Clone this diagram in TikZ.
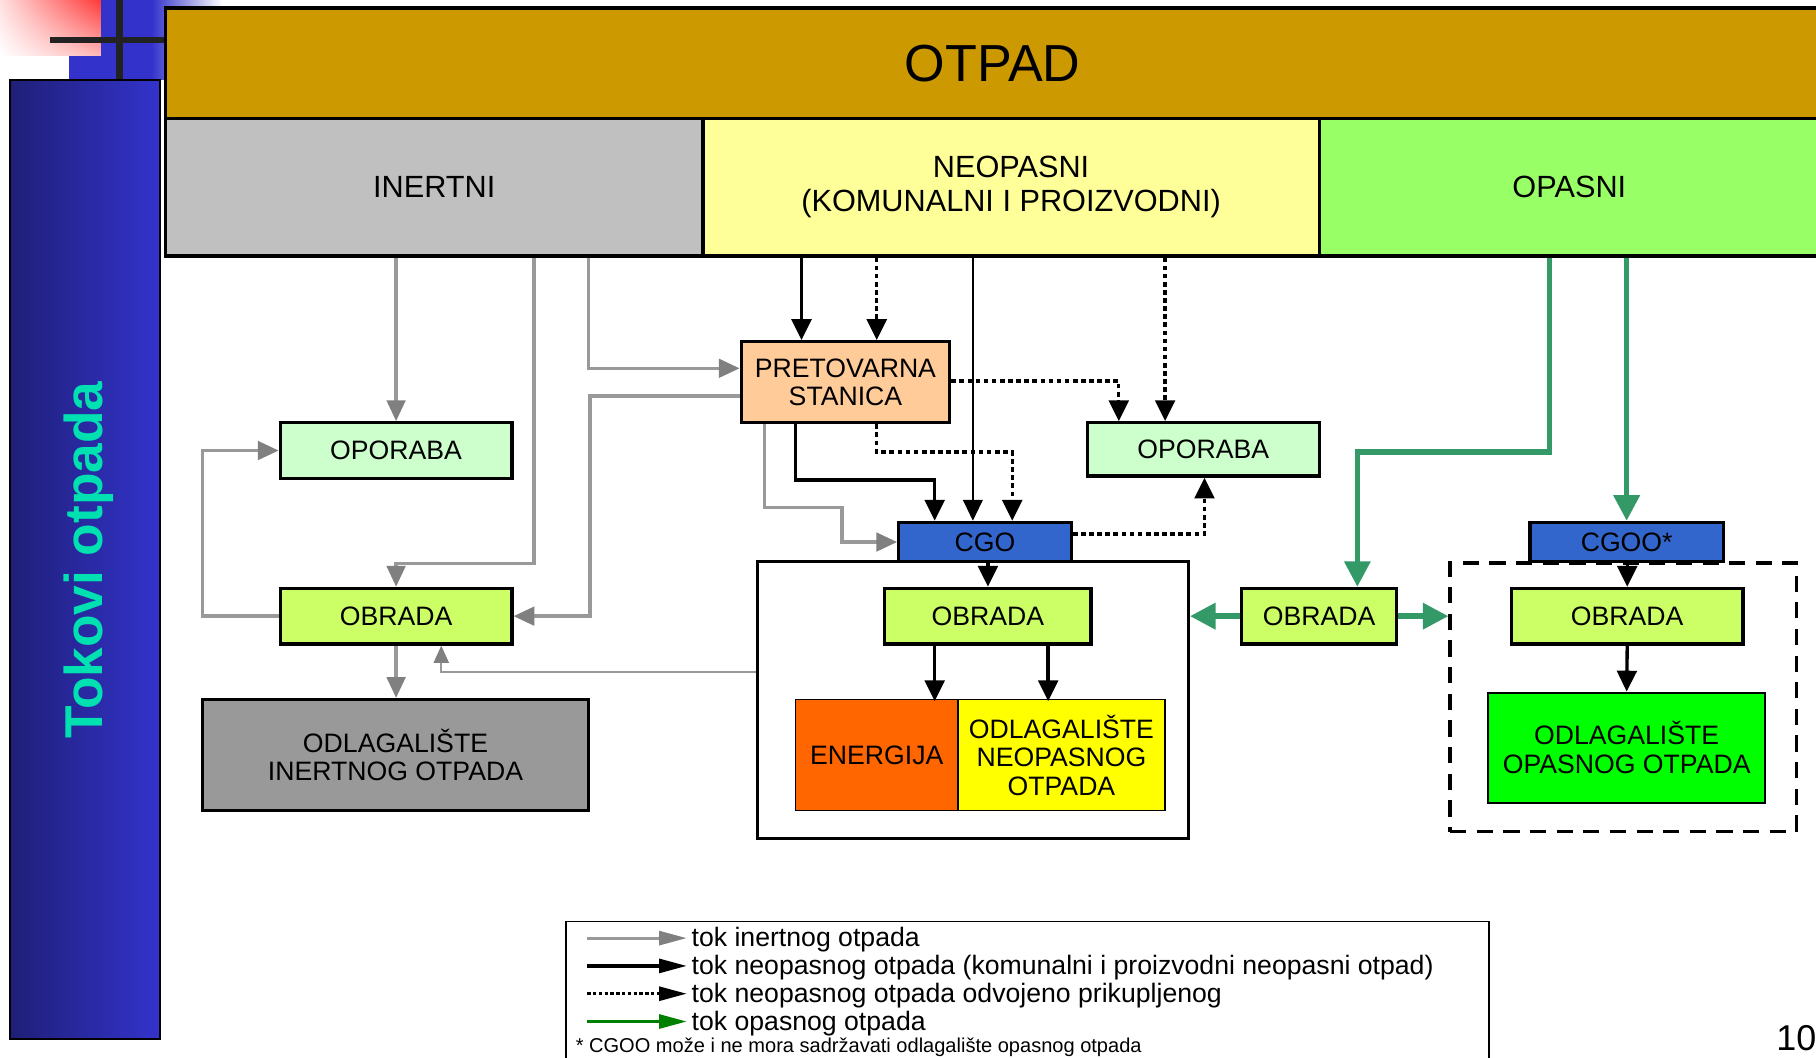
\documentclass[tikz,border=0pt]{standalone}
\usepackage{fontspec}
\setmainfont{Liberation Sans}
\usetikzlibrary{arrows.meta,calc,shadings}
\definecolor{otpadc}{HTML}{CC9900}
\definecolor{inertc}{HTML}{C0C0C0}
\definecolor{neoc}{HTML}{FFFF99}
\definecolor{opasc}{HTML}{99FF66}
\definecolor{pretc}{HTML}{FFCC99}
\definecolor{oporc}{HTML}{CCFFCC}
\definecolor{obrc}{HTML}{CCFF66}
\definecolor{odlIc}{HTML}{999999}
\definecolor{cgoc}{HTML}{3366CC}
\definecolor{energc}{HTML}{FF6600}
\definecolor{odlNc}{HTML}{FFFF00}
\definecolor{odlOc}{HTML}{00FF00}
\definecolor{linegray}{HTML}{999999}
\definecolor{tipgray}{HTML}{808080}
\definecolor{grn}{HTML}{339966}
\definecolor{leggrn}{HTML}{008000}
\definecolor{navyL}{HTML}{1F1F78}
\definecolor{navyR}{HTML}{3333CC}
\definecolor{decoblue}{HTML}{3333CC}
\definecolor{crossc}{HTML}{222222}
\definecolor{titlec}{RGB}{0,224,176}
\tikzset{
  box/.style={draw=black, line width=2.8pt, inner sep=0pt, align=center,
    font=\fontsize{23}{24.5}\selectfont},
  catbox/.style={draw=black, line width=2.8pt, inner sep=0pt, align=center,
    font=\fontsize{26.5}{29}\selectfont},
  garr/.style={draw=linegray, line width=2.9pt, -{Triangle[length=18pt,width=16pt,color=tipgray]}},
  garrthin/.style={draw=linegray, line width=2pt, -{Triangle[length=15pt,width=13pt,color=tipgray]}},
  barr/.style={draw=black, line width=2.9pt, -{Triangle[length=18pt,width=17pt]}},
  bthin/.style={draw=black, line width=1.4pt, -{Triangle[length=18pt,width=17pt]}},
  darr/.style={draw=black, line width=2.9pt, dash pattern=on 4pt off 3pt, -{Triangle[length=18pt,width=17pt]}},
  grarr/.style={draw=grn, line width=4.6pt, -{Triangle[length=22pt,width=22pt]}},
  lgarr/.style={draw=linegray, line width=2.8pt, -{Triangle[length=24pt,width=12pt,color=tipgray]}},
  lbarr/.style={draw=black, line width=2.8pt, -{Triangle[length=24pt,width=12pt]}},
  ldarr/.style={draw=black, line width=2.8pt, dash pattern=on 3pt off 2pt, -{Triangle[length=24pt,width=12pt]}},
  lgrarr/.style={draw=leggrn, line width=2.8pt, -{Triangle[length=24pt,width=12pt]}},
  legtext/.style={anchor=west, inner sep=0pt, font=\fontsize{23}{24.5}\selectfont},
}
\begin{document}
\begin{tikzpicture}[x=1pt,y=-1pt]
\clip (0,0) rectangle (1568,913);
\fill[white] (0,0) rectangle (1568,913);
% decorations
\fill[decoblue] (60,0) rectangle (132,69);
\shade[left color=decoblue, right color=white] (131,0) rectangle (192,69);
\shade[upper left=red!12, upper right=red!78, lower left=white, lower right=red!28] (0,0) rectangle (87,47.5);
\draw[line width=5.8pt, crossc] (43,34.5) -- (143,34.5);
\draw[line width=5.8pt, crossc] (103,0) -- (103,69);
\shadedraw[left color=navyL, right color=navyR, draw=black, line width=1.5pt] (8.6,69) rectangle (138,897);
\node[rotate=90, text=titlec, font=\bfseries\fontsize{46}{50}\selectfont, inner sep=0pt] (title) at (77,483.5) {Tokovi otpada};

% header
\node[catbox, fill=otpadc, minimum width=1428pt, minimum height=95pt, font=\fontsize{45}{50}\selectfont] (otpad) at (857,54.5) {OTPAD};
\node[catbox, fill=inertc, minimum width=464pt, minimum height=119pt] (inertni) at (375,161.5) {INERTNI};
\node[catbox, fill=neoc, minimum width=532pt, minimum height=119pt] (neo) at (873,161.5) {NEOPASNI\\(KOMUNALNI I PROIZVODNI)};
\node[catbox, fill=opasc, minimum width=432pt, minimum height=119pt] (opas) at (1355,161.5) {OPASNI};

% boxes
\node[box, fill=pretc, minimum width=180pt, minimum height=70pt] (pret) at (730,330) {PRETOVARNA\\STANICA};
\node[box, fill=oporc, minimum width=200pt, minimum height=48pt] (opL) at (342,389) {OPORABA};
\node[box, fill=obrc, minimum width=200pt, minimum height=48pt] (obL) at (342,532) {OBRADA};
\node[box, fill=odlIc, minimum width=333pt, minimum height=96pt] (odlI) at (341.5,652) {ODLAGALIŠTE\\INERTNOG OTPADA};
\node[box, fill=oporc, minimum width=200pt, minimum height=46pt] (opM) at (1039,388) {OPORABA};
\node[draw=black, line width=3pt, minimum width=372pt, minimum height=239pt, inner sep=0pt] (nbox) at (840,604.5) {};
\node[box, fill=cgoc, minimum width=149pt, minimum height=34pt] (cgo) at (850.5,468) {CGO};
\node[box, fill=obrc, minimum width=178pt, minimum height=48pt] (obM) at (853,532) {OBRADA};
\node[box, line width=1.2pt, fill=energc, minimum width=140pt, minimum height=96pt] (energ) at (757,652) {ENERGIJA};
\node[box, line width=1.2pt, fill=odlNc, minimum width=179pt, minimum height=96pt] (odlN) at (916.5,652) {ODLAGALIŠTE\\NEOPASNOG\\OTPADA};
\node[box, fill=obrc, minimum width=134pt, minimum height=48pt] (obR1) at (1139,532) {OBRADA};
\node[draw=black, dash pattern=on 14pt off 9pt, line width=3pt, minimum width=299pt, minimum height=232pt, inner sep=0pt] (dbox) at (1401.5,602) {};
\node[box, fill=cgoc, minimum width=167pt, minimum height=34pt] (cgoo) at (1404.5,468) {CGOO*};
\node[box, fill=obrc, minimum width=200pt, minimum height=48pt] (obR2) at (1405,532) {OBRADA};
\node[box, line width=1.8pt, fill=odlOc, minimum width=239pt, minimum height=95pt] (odlO) at (1404.5,645.5) {ODLAGALIŠTE\\OPASNOG OTPADA};

% gray (inert) flows
\draw[garr] (inertni.south -| opL.north) -- (opL.north);
\draw[garr] ($(inertni.south)+(86,0)$) -- ++(0,264) -| (obL.north);
\draw[garr] ($(inertni.south)+(133,0)$) |- ($(pret.west)+(0,-12)$);
\draw[garr] ($(pret.west)+(0,12)$) -| ($(obL.east)+(66,0)$) -- (obL.east);
\draw[garr] (obL.west) -- ++(-66,0) |- (opL.west);
\draw[garr] (obL.south) -- (obL.south |- odlI.north);
\draw[garrthin] ($(nbox.west)+(0,-24.5)$) -| ($(obL.south)+(39,0)$);
\draw[garr] ($(pret.south)+(-70,0)$) -- ++(0,72) -- ++(67,0) |- (cgo.west);

% black (non-hazardous) flows
\draw[barr] ($(neo.south)+(-181,0)$) -- ($(pret.north)+(-38,0)$);
\draw[barr] ($(pret.south)+(-43,0)$) -- ++(0,48) -| ($(cgo.north)+(-43.5,0)$);
\draw[bthin] ($(neo.south)+(-33,0)$) -- ($(cgo.north)+(-10.5,0)$);
\draw[barr] (cgo.south -| obM.north) -- (obM.north);
\draw[barr] ($(obM.south)+(-46,0)$) -- ++(0,48);
\draw[barr] ($(obM.south)+(52,0)$) -- ++(0,48);
\draw[barr] (cgoo.south -| obR2.north) -- (obR2.north);
\draw[barr] (obR2.south) -- (odlO.north);

% dotted (separately collected)
\draw[darr] ($(neo.south)+(-116,0)$) -- ($(pret.north)+(27,0)$);
\draw[darr] ($(pret.east)+(0,-1)$) -| ($(opM.north)+(-73,0)$);
\draw[darr] ($(neo.south)+(133,0)$) -- ($(opM.north)+(-33,0)$);
\draw[darr] ($(pret.south)+(27,0)$) -- ++(0,24) -| ($(cgo.north)+(23.5,0)$);
\draw[darr] ($(cgo.east)+(0,-7)$) -| ($(opM.south)+(1,0)$);

% green (hazardous)
\draw[grarr] ($(opas.south)+(-17,0)$) -- ++(0,168) -| ($(obR1.north)+(33,0)$);
\draw[grarr] (opas.south -| cgoo.north) -- (cgoo.north);
\draw[grarr] (obR1.west) -- (obR1.west -| nbox.east);
\draw[grarr] (obR1.east) -- (obR1.east -| dbox.west);

% legend
\node[draw=black, line width=1.5pt, minimum width=797pt, minimum height=130pt, inner sep=0pt, anchor=north west] (leg) at (488,795) {};
\coordinate (la1) at (507,810); \coordinate (lb1) at (593,810);
\coordinate (la2) at (507,834); \coordinate (lb2) at (593,834);
\coordinate (la3) at (507,858); \coordinate (lb3) at (593,858);
\coordinate (la4) at (507,882); \coordinate (lb4) at (593,882);
\draw[lgarr] (la1) -- (lb1);
\draw[lbarr] (la2) -- (lb2);
\draw[ldarr] (la3) -- (lb3);
\draw[lgrarr] (la4) -- (lb4);
\node[legtext] (t1) at (597,811.5) {tok inertnog otpada};
\node[legtext] (t2) at (597,835.5) {tok neopasnog otpada (komunalni i proizvodni neopasni otpad)};
\node[legtext] (t3) at (597,859.5) {tok neopasnog otpada odvojeno prikupljenog};
\node[legtext] (t4) at (597,883.5) {tok opasnog otpada};
\node[anchor=west, inner sep=0pt, font=\fontsize{17.3}{19}\selectfont] (fn) at (497,904.5) {* CGOO može i ne mora sadržavati odlagalište opasnog otpada};
\node[inner sep=0pt, font=\fontsize{31}{34}\selectfont] (pg) at (1551,896) {10};
\end{tikzpicture}
\end{document}
